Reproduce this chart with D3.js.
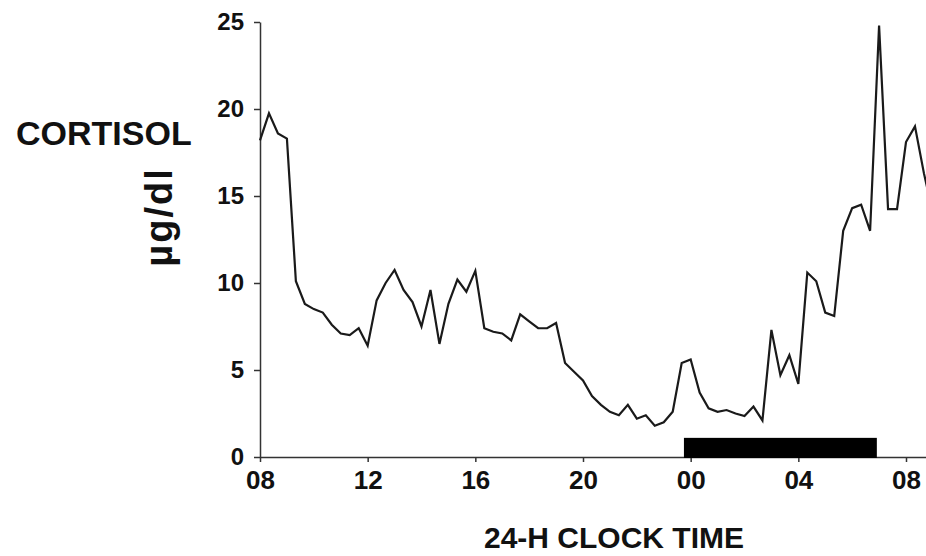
<!DOCTYPE html>
<html>
<head>
<meta charset="utf-8">
<script src="https://cdn.jsdelivr.net/npm/d3@7"></script>
<style>
	body { margin: 0; background: #fff; }
	svg { display: block; font-family: "Liberation Sans", Arial, sans-serif; }
	.axis path, .axis line { stroke: #333; stroke-width: 1.5; }
	.axis text { font-weight: bold; fill: #111; }
</style>
</head>
<body>
<svg id="graph"></svg>
<script>
var screenWidth = 926;
var screenHeight = 556;

// sampling times (every 20 min, from 08:00 to 09:00 next day)
var sampleTimes = [
	"08:00","08:20","08:40","09:00","09:20","09:40","10:00","10:20","10:40","11:00",
	"11:20","11:40","12:00","12:20","12:40","13:00","13:20","13:40","14:00","14:20",
	"14:40","15:00","15:20","15:40","16:00","16:20","16:40","17:00","17:20","17:40",
	"18:00","18:20","18:40","19:00","19:20","19:40","20:00","20:20","20:40","21:00",
	"21:20","21:40","22:00","22:20","22:40","23:00","23:20","23:40","00:00","00:20",
	"00:40","01:00","01:20","01:40","02:00","02:20","02:40","03:00","03:20","03:40",
	"04:00","04:20","04:40","05:00","05:20","05:40","06:00","06:20","06:40","07:00",
	"07:20","07:40","08:00","08:20","08:40","09:00"
];
// cortisol, µg/dl
var cortisol = [
	18.2, 19.75, 18.6, 18.3, 10.1, 8.8, 8.5, 8.3, 7.6, 7.1,
	7.0, 7.4, 6.4, 9.0, 10.0, 10.75, 9.6, 8.9, 7.5, 9.6,
	6.5, 8.8, 10.2, 9.5, 10.7, 7.4, 7.2, 7.1, 6.7, 8.2,
	7.8, 7.4, 7.4, 7.7, 5.4, 4.9, 4.4, 3.5, 3.0, 2.6,
	2.4, 3.0, 2.2, 2.4, 1.8, 2.0, 2.6, 5.4, 5.6, 3.7,
	2.8, 2.6, 2.7, 2.5, 2.35, 2.9, 2.1, 7.3, 4.7, 5.85,
	4.2, 10.6, 10.1, 8.3, 8.1, 13.0, 14.3, 14.5, 13.0, 24.8,
	14.25, 14.25, 18.1, 19.0, 16.3, 14.0
];

// x ticks (hours after 08:00) and their labels
var xTicks = [0, 4, 8, 12, 16, 20, 24];
var xTickLabels = ["08", "12", "16", "20", "00", "04", "08"];
var yTicks = [0, 5, 10, 15, 20, 25];

// sleep (dark) period
var sleepPeriod = ["23:45", "06:55"];

// clock string -> hours after 08:00, keeping the order going forward
function toHours(list) {
	var prev = -1;
	return list.map(function(s) {
		var p = s.split(':');
		var h = ((+p[0] * 60 + +p[1]) - 480 + 1440) % 1440 / 60;
		while (h < prev) h += 24;
		prev = h;
		return h;
	});
}

var hours = toHours(sampleTimes);
var data = hours.map(function(h, i) { return { t: h, v: cortisol[i] }; });
var sleep = toHours(sleepPeriod);

var x = d3.scaleLinear().domain([0, 24]).range([260, 906]);
var y = d3.scaleLinear().domain([0, 25]).range([457, 22]);

var svg = d3.select('#graph')
	.attr('width', screenWidth)
	.attr('height', screenHeight);

svg.append('defs').append('clipPath').attr('id', 'clip')
	.append('rect')
	.attr('x', 0).attr('y', 0)
	.attr('width', screenWidth).attr('height', screenHeight);

// axes
var xAxisScale = x.copy().domain([0, x.invert(screenWidth)]).range([260, screenWidth]);
svg.append('g')
	.classed('axis', true)
	.attr('transform', 'translate(0,' + y(0) + ')')
	.call(d3.axisBottom(xAxisScale)
		.tickValues(xTicks)
		.tickSize(5)
		.tickSizeOuter(0)
		.tickPadding(9)
		.tickFormat(function(d, i) { return xTickLabels[i]; }))
	.selectAll('text')
	.style('font-size', '26px');

svg.append('g')
	.classed('axis', true)
	.attr('transform', 'translate(' + x(0) + ',0)')
	.call(d3.axisLeft(y)
		.tickValues(yTicks)
		.tickSize(6)
		.tickSizeOuter(0)
		.tickPadding(10))
	.selectAll('text')
	.style('font-size', '24px');

// sleep bar
svg.append('rect')
	.attr('x', x(sleep[0]))
	.attr('y', y(1.1))
	.attr('width', x(sleep[1]) - x(sleep[0]))
	.attr('height', y(0) - y(1.1) + 1)
	.attr('fill', '#000');

// cortisol line
var line = d3.line()
	.x(function(d) { return x(d.t); })
	.y(function(d) { return y(d.v); });

svg.append('path')
	.datum(data)
	.attr('clip-path', 'url(#clip)')
	.attr('d', line)
	.attr('fill', 'none')
	.attr('stroke', '#1a1a1a')
	.attr('stroke-width', 2.2)
	.attr('stroke-linejoin', 'miter');

// labels
svg.append('text')
	.attr('x', 16)
	.attr('y', 145)
	.style('font-size', '34px')
	.style('font-weight', 'bold')
	.attr('fill', '#111')
	.text('CORTISOL');

svg.append('text')
	.attr('transform', 'translate(159,217) rotate(-90)')
	.attr('text-anchor', 'middle')
	.attr('dominant-baseline', 'central')
	.style('font-size', '38px')
	.style('letter-spacing', '2px')
	.style('font-weight', 'bold')
	.attr('fill', '#111')
	.text('µg/dl');

svg.append('text')
	.attr('x', 614)
	.attr('y', 548)
	.attr('text-anchor', 'middle')
	.style('font-size', '30px')
	.style('font-weight', 'bold')
	.attr('fill', '#111')
	.text('24-H CLOCK TIME');
</script>
</body>
</html>
